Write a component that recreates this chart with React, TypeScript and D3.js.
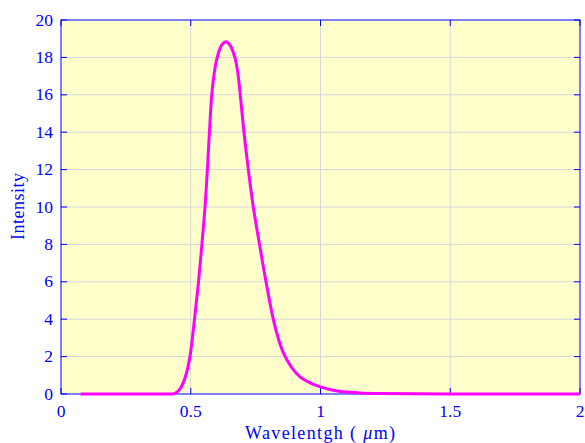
import React from "react";
import * as d3 from "d3";

const wavelength = [0.075, 0.2, 0.3, 0.4, 0.43, 0.44, 0.455, 0.47, 0.485, 0.497, 0.5145, 0.53, 0.543, 0.555, 0.564, 0.572, 0.581, 0.591, 0.602, 0.619, 0.636, 0.653, 0.67, 0.68, 0.688, 0.705, 0.722, 0.741, 0.765, 0.79, 0.818, 0.84, 0.862, 0.89, 0.921, 0.96, 1.0, 1.04, 1.087, 1.15, 1.23, 1.5, 2.0];
const intensity = [0, 0, 0, 0, 0.0, 0.04, 0.2, 0.57, 1.2, 2.0, 4.0, 6.0, 8.0, 10.0, 12.0, 14.0, 16.0, 17.2, 18.0, 18.65, 18.84, 18.62, 18.0, 17.3, 16.4, 14.0, 12.0, 10.0, 8.0, 6.0, 4.0, 2.85, 2.05, 1.4, 0.92, 0.6, 0.38, 0.23, 0.12, 0.06, 0.03, 0.005, 0];
const xTicks = [0, 0.5, 1, 1.5, 2];
const xTickLabels = ["0", "0.5", "1", "1.5", "2"];
const yTicks = [0, 2, 4, 6, 8, 10, 12, 14, 16, 18, 20];

const W = 585, H = 443;
const L = 61, R = 580, T = 20, B = 394;
const blue = "#0000ff";
const font = "'Liberation Serif', 'Times New Roman', Times, serif";
const tickTxt = { fontFamily: font, fontSize: "17.5px" };
const titleTxt = { fontFamily: font, fontSize: "18px" };

export default function App() {
  const x = d3.scaleLinear().domain([0, 2]).range([L, R]);
  const y = d3.scaleLinear().domain([0, 20]).range([B, T]);
  const pts: [number, number][] = wavelength.map((w, i) => [w, intensity[i]]);
  const line = d3.line<[number, number]>().x(d => x(d[0])).y(d => y(d[1])).curve(d3.curveCatmullRom.alpha(0.5));
  const tk = 6;
  return (
    <svg width={W} height={H} style={{ position: "absolute", left: 0, top: 0, background: "#fff" }}>
      <rect x={L} y={T} width={R - L} height={B - T} fill="#ffffcc" />
      {yTicks.slice(1, -1).map(v => (
        <line key={"gy" + v} x1={L} x2={R} y1={y(v)} y2={y(v)} stroke="#d6d6dc" strokeWidth={1} />
      ))}
      {xTicks.slice(1, -1).map(v => (
        <line key={"gx" + v} x1={x(v)} x2={x(v)} y1={T} y2={B} stroke="#d6d6dc" strokeWidth={1} />
      ))}
      <rect x={L} y={T} width={R - L} height={B - T} fill="none" stroke={blue} strokeWidth={1} />
      {yTicks.map(v => (
        <g key={"ty" + v}>
          <line x1={L} x2={L + tk} y1={y(v)} y2={y(v)} stroke={blue} />
          <line x1={R} x2={R - tk} y1={y(v)} y2={y(v)} stroke={blue} />
          <text x={L - 8} y={y(v) + 5.5} textAnchor="end" style={tickTxt} fill={blue}>{v}</text>
        </g>
      ))}
      {xTicks.map((v, i) => (
        <g key={"tx" + v}>
          <line x1={x(v)} x2={x(v)} y1={B} y2={B - tk} stroke={blue} />
          <line x1={x(v)} x2={x(v)} y1={T} y2={T + tk} stroke={blue} />
          <text x={x(v)} y={417} textAnchor="middle" style={tickTxt} fill={blue}>{xTickLabels[i]}</text>
        </g>
      ))}
      <path d={line(pts) || ""} fill="none" stroke="#ff00ff" strokeWidth={3} strokeLinejoin="round" />
      <text x={245} y={439} textLength={150} lengthAdjust="spacing" style={titleTxt} fill={blue}>
        Wavelentgh ( <tspan fontStyle="italic">μ</tspan>m)
      </text>
      <text transform={`translate(24,240) rotate(-90)`} textLength={67} lengthAdjust="spacing" style={titleTxt} fill={blue}>Intensity</text>
    </svg>
  );
}
